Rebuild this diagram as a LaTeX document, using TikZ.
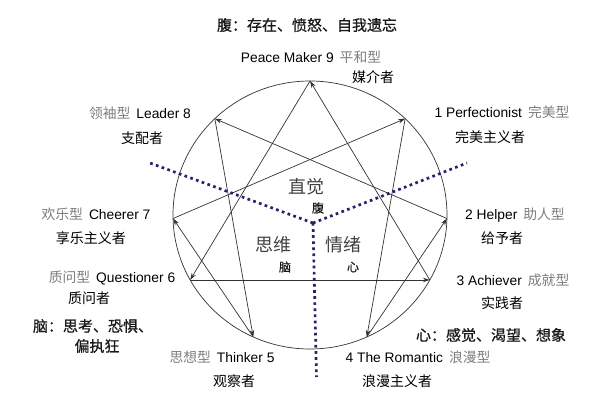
\documentclass[tikz,border=0pt]{standalone}
\usepackage{fontspec}
\setmainfont{Liberation Sans}
\newfontfamily\cjk{Noto Sans CJK SC}
\newfontfamily\song{Noto Sans CJK SC}
\newfontfamily\kai[FakeBold=0.8]{Noto Sans CJK SC}
\usetikzlibrary{arrows.meta,calc}
\definecolor{navy}{RGB}{35,35,110}
\definecolor{cjkgray}{RGB}{125,125,125}
\definecolor{linec}{RGB}{50,50,50}
\newcommand{\sg}[1]{{\song\color{cjkgray}#1}}
\newcommand{\gp}{\hspace{6pt}}
\begin{document}
\begin{tikzpicture}[x=1pt,y=-1pt,
  lbl/.style={font=\fontsize{13.8}{16}\selectfont, inner sep=0pt},
  sub/.style={font=\cjk\fontsize{14}{16}\selectfont, inner sep=0pt},
  cal/.style={font=\kai\fontsize{15}{18}\selectfont, inner sep=0pt, text=black!90},
  big/.style={font=\song\fontsize{18}{20}\selectfont, inner sep=0pt, text=black!75},
  arr/.style={draw=linec, line width=0.7pt, -{Stealth[length=7pt,width=4.5pt]}},
  dots/.style={draw=navy, line width=2.7pt, dash pattern=on 2.7pt off 3.4pt}
]
\useasboundingbox (0,0) rectangle (598,401);
\coordinate (c) at (310,215);
\draw[linec, line width=0.7pt] (c) ellipse [x radius=137, y radius=134];
\foreach \n/\a in {9/90,1/46,2/-1.5,3/-29,4/-65.5,5/-114.5,6/-151,7/181.5,8/134}
  \coordinate (p\n) at ($(c)+({137*cos(\a)},{-134*sin(\a)})$);
% triangle
\draw[arr] (p9) -- (p6);
\draw[arr] (p6) -- (p3);
\draw[arr] (p3) -- (p9);
% hexad
\draw[arr] (p1) -- (p4);
\draw[arr] (p4) -- (p2);
\draw[arr] (p2) -- (p8);
\draw[arr] (p8) -- (p5);
\draw[arr] (p5) -- (p7);
\draw[arr] (p7) -- (p1);
% centres
\coordinate (j) at (313,223);
\coordinate (eL) at (150,163);
\coordinate (eR) at (467,163);
\coordinate (eB) at (316.5,377);
\draw[dots] (j) -- (eL);
\draw[dots] (j) -- (eR);
\draw[dots] (j) -- (eB);
% labels
\node[cal] (tgut) at (307,25) {腹：存在、愤怒、自我遗忘};
\node[lbl] (t9) at (311,57) {Peace Maker 9\gp\sg{平和型}};
\node[sub] (s9) at (373,77) {媒介者};
\node[lbl] (t8) at (140,113) {\sg{领袖型}\gp Leader 8};
\node[sub] (s8) at (142,138) {支配者};
\node[lbl] (t7) at (96,214) {\sg{欢乐型}\gp Cheerer 7};
\node[sub] (s7) at (91,238) {享乐主义者};
\node[lbl] (t6) at (112,278) {\sg{质问型}\gp Questioner 6};
\node[sub] (s6) at (89,298) {质问者};
\node[cal] (thead) at (93,326) {脑：思考、恐惧、};
\node[cal] (thead2) at (97,346) {偏执狂};
\node[lbl] (t5) at (222,357) {\sg{思想型}\gp Thinker 5};
\node[sub] (s5) at (234,381) {观察者};
\node[lbl] (t1) at (502,112) {1 Perfectionist\gp\sg{完美型}};
\node[sub] (s1) at (490,137) {完美主义者};
\node[lbl] (t2) at (515,215) {2 Helper\gp\sg{助人型}};
\node[sub] (s2) at (502,238) {给予者};
\node[lbl] (t3) at (513,280) {3 Achiever\gp\sg{成就型}};
\node[sub] (s3) at (502,303) {实践者};
\node[cal] (theart) at (491,335) {心：感觉、渴望、想象};
\node[lbl] (t4) at (418,357) {4 The Romantic\gp\sg{浪漫型}};
\node[sub] (s4) at (397,381) {浪漫主义者};
% centre labels
\node[big] (zj) at (306,187) {直觉};
\node[cal, font=\kai\fontsize{12}{14}\selectfont] (zf) at (318,208) {腹};
\node[big] (sw) at (273,245) {思维};
\node[cal, font=\kai\fontsize{12}{14}\selectfont] (sn) at (285,267) {脑};
\node[big] (qx) at (343,245) {情绪};
\node[cal, font=\kai\fontsize{12}{14}\selectfont] (qh) at (353,267) {心};
\end{tikzpicture}
\end{document}
